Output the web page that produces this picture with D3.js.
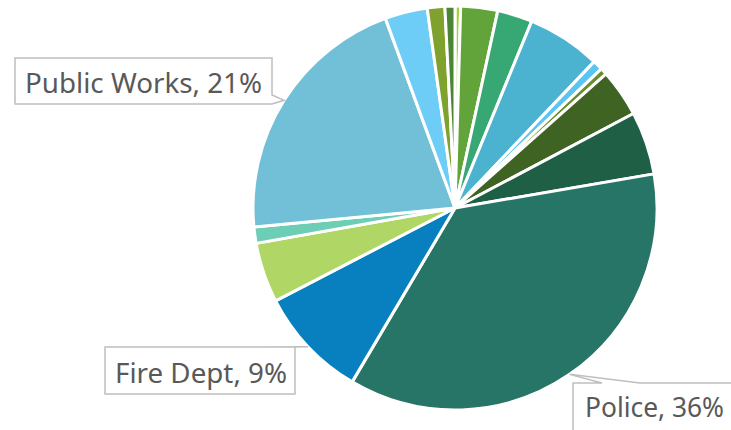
<!DOCTYPE html>
<html>
<head>
<meta charset="utf-8">
<script src="https://cdn.jsdelivr.net/npm/d3@7"></script>
<style>
  body { margin: 0; background: #fff; }
  svg { display: block; }
</style>
</head>
<body>
<div id="chart"></div>
<script>
var w = 731;
var h = 430;

// departments, clockwise from 12 o'clock
var departments = ["Library", "Parks", "Recreation", "Utilities", "IT", "Clerk",
  "Planning", "Courts", "Police", "Fire Dept", "Finance", "Legal",
  "Public Works", "Transit", "Human Resources", "Mayor"];
var shares = [0.45, 2.95, 2.8, 5.9, 0.8, 0.55, 3.8, 5.05, 36.2, 8.9, 4.8, 1.3, 20.9, 3.4, 1.4, 0.8];
var colors = ["#a2d13c", "#62a33a", "#37a774", "#4bb2d0", "#5bc4f1", "#6a8c2a",
  "#3e6322", "#1f5f45", "#267566", "#0880c0", "#b0d766", "#6ccfb5",
  "#72bfd8", "#6ecdf6", "#7fa22e", "#4b8535"];
var labelled = ["Public Works", "Fire Dept", "Police"];

var cx = 455, cy = 208, r = 202;

var svg = d3.select("#chart")
  .append("svg")
  .attr("width", w)
  .attr("height", h);

var total = d3.sum(shares);
var data = departments.map(function (d, i) {
  return { name: d, value: shares[i], color: colors[i] };
});

var pie = d3.pie()
  .value(function (d) { return d.value; })
  .sort(null);

var arc = d3.arc().innerRadius(0).outerRadius(r);
var edge = d3.arc().innerRadius(r).outerRadius(r);

var arcs = pie(data);

var g = svg.append("g").attr("transform", "translate(" + cx + "," + cy + ")");

g.selectAll("path")
  .data(arcs)
  .enter()
  .append("path")
  .attr("d", arc)
  .attr("fill", function (d) { return d.data.color; })
  .attr("stroke", "#fff")
  .attr("stroke-width", 3)
  .attr("stroke-linejoin", "round");

// callout boxes (box, wedge base points, text layout)
var callouts = {
  "Public Works": { x0: 15, y0: 58, x1: 272, y1: 104, tx: 25, ty: 93, tw: 237,
    shape: function (b, t) {
      return "M" + b.x0 + "," + b.y0 + "H" + b.x1 + "V95L" + t[0] + "," + t[1] +
        "L" + b.x1 + "," + b.y1 + "H" + b.x0 + "Z";
    } },
  "Fire Dept": { x0: 105, y0: 347, x1: 295, y1: 394, tx: 115, ty: 383, tw: 172,
    shape: function (b, t) {
      return "M" + b.x0 + "," + b.y0 + "H263L" + t[0] + "," + t[1] +
        "L" + b.x1 + "," + b.y0 + "V" + b.y1 + "H" + b.x0 + "Z";
    } },
  "Police": { x0: 573, y0: 383, x1: 745, y1: 445, tx: 585, ty: 417, tw: 139,
    shape: function (b, t) {
      return "M" + b.x0 + "," + b.y0 + "H602L" + t[0] + "," + t[1] +
        "L640," + b.y0 + "H" + b.x1 + "V" + b.y1 + "H" + b.x0 + "Z";
    } }
};

var labelArcs = arcs.filter(function (d) { return labelled.indexOf(d.data.name) >= 0; });

var lab = svg.selectAll(".callout")
  .data(labelArcs)
  .enter()
  .append("g")
  .attr("class", "callout");

lab.append("path")
  .attr("d", function (d) {
    var c = edge.centroid(d);
    var tip = [cx + c[0], cy + c[1]];
    var b = callouts[d.data.name];
    return b.shape(b, tip);
  })
  .attr("fill", "#fff")
  .attr("stroke", "#bfbfbf")
  .attr("stroke-width", 1.5);

lab.append("text")
  .attr("x", function (d) { return callouts[d.data.name].tx; })
  .attr("y", function (d) { return callouts[d.data.name].ty; })
  .attr("textLength", function (d) { return callouts[d.data.name].tw; })
  .attr("lengthAdjust", "spacingAndGlyphs")
  .attr("font-family", "'Noto Sans', 'Open Sans', sans-serif")
  .attr("font-size", "28px")
  .attr("fill", "#595959")
  .text(function (d) {
    return d.data.name + ", " + Math.round(d.data.value / total * 100) + "%";
  });
</script>
</body>
</html>
